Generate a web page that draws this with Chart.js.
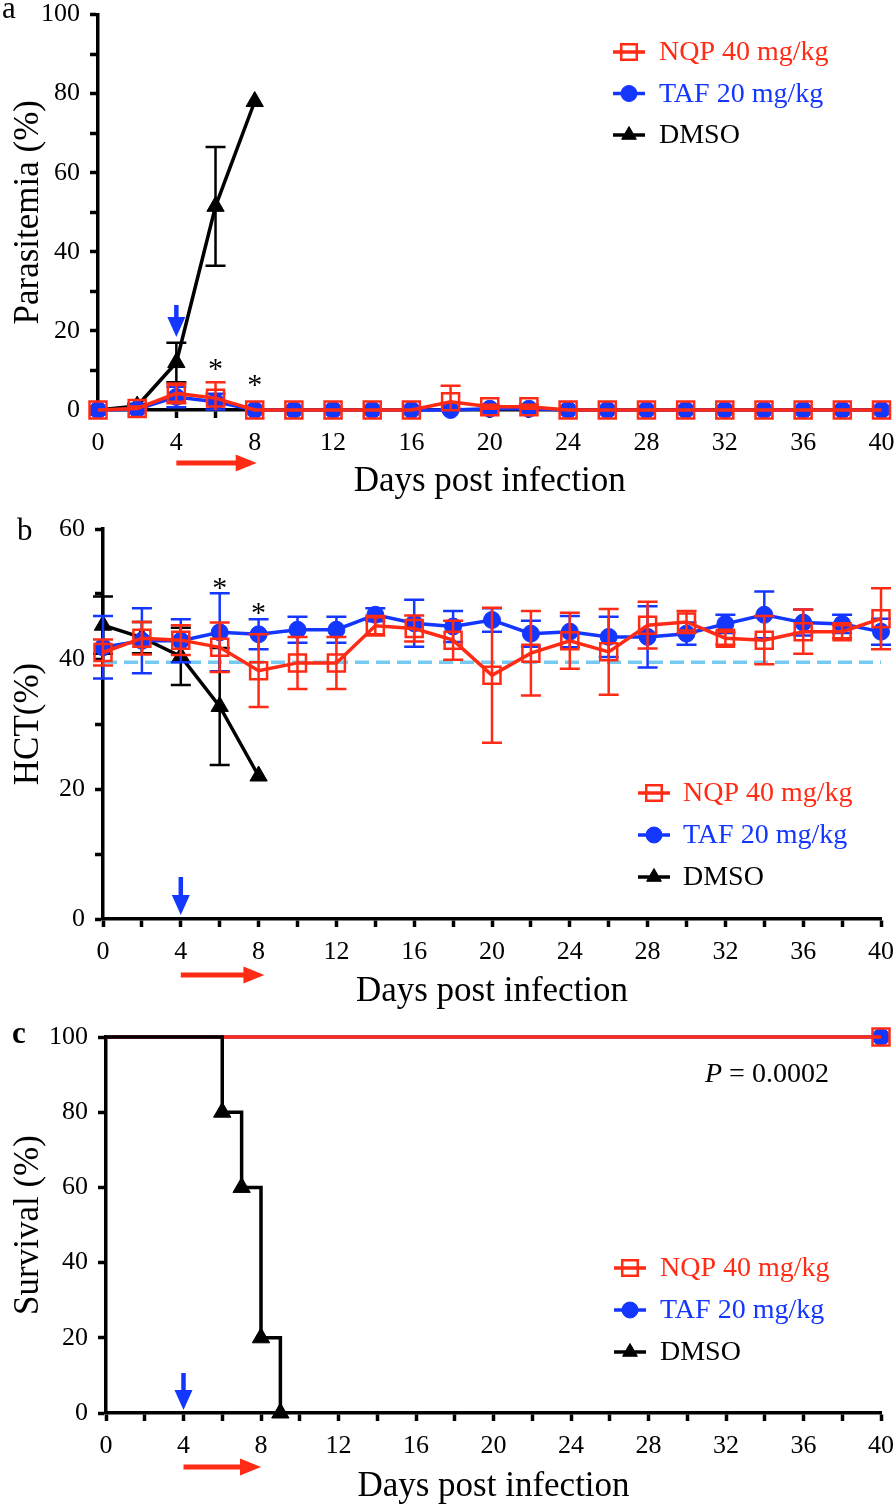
<!DOCTYPE html>
<html>
<head>
<meta charset="utf-8">
<script src="https://cdn.jsdelivr.net/npm/chart.js@4.4.1/dist/chart.umd.min.js"></script>
<style>
  body { margin: 0; background: #fff; }
  #wrap { position: relative; width: 896px; height: 1511px; }
  canvas { position: absolute; left: 0; }
</style>
</head>
<body>
<div id="wrap">
  <canvas id="chartA" width="896" height="505" style="top:0px"></canvas>
  <canvas id="chartB" width="896" height="509" style="top:505px"></canvas>
  <canvas id="chartC" width="896" height="497" style="top:1014px"></canvas>
</div>
<script>
// ---- data ----
const days = [0, 2, 4, 6, 8, 10, 12, 14, 16, 18, 20, 22, 24, 26, 28, 30, 32, 34, 36, 38, 40];
const dmsoDays = [0, 2, 4, 6, 8];

// a: parasitemia (%)
const paraNQP   = [0, 0.4, 4.2, 3.0, 0, 0, 0, 0, 0, 2.1, 0.8, 0.8, 0, 0, 0, 0, 0, 0, 0, 0, 0];
const paraNQPsd = [0, 0.5, 2.5, 4.0, 0, 0, 0, 0, 0, 4.0, 0.5, 0.5, 0, 0, 0, 0, 0, 0, 0, 0, 0];
const paraTAF   = [0, 0.2, 3.3, 2.1, 0, 0, 0, 0, 0, 0, 0.3, 0.3, 0, 0, 0, 0, 0, 0, 0, 0, 0];
const paraTAFsd = [0, 0.2, 2.6, 2.0, 0, 0, 0, 0, 0, 0, 0, 0, 0, 0, 0, 0, 0, 0, 0, 0, 0];
const paraDMSO   = [0, 1, 12, 51.5, 78];
const paraDMSOsd = [0, 0.5, 5, 15, 0];

// b: HCT (%)
const hctNQP   = [41.0, 43.2, 42.9, 41.8, 38.2, 39.4, 39.4, 45.1, 44.7, 42.9, 37.5, 40.9, 42.8, 41.1, 45.2, 45.7, 43.2, 42.9, 44.2, 44.2, 46.2];
const hctNQPsd = [2.0, 2.5, 2.3, 3.8, 5.6, 4.0, 4.0, 1.5, 2.0, 3.0, 10.4, 6.5, 4.3, 6.6, 3.6, 1.7, 1.0, 3.7, 3.4, 1.0, 4.7];
const hctTAF   = [41.8, 42.8, 42.8, 44.1, 43.8, 44.5, 44.5, 46.8, 45.5, 45.0, 46.0, 43.9, 44.2, 43.4, 43.4, 43.9, 45.4, 46.8, 45.6, 45.4, 44.2];
const hctTAFsd = [4.8, 5.0, 3.3, 6.0, 2.3, 2.0, 2.0, 1.0, 3.6, 2.4, 1.8, 2.0, 2.4, 3.1, 4.7, 1.7, 1.4, 3.6, 2.0, 1.4, 2.0];
const hctDMSO   = [45.2, 43.3, 40.4, 32.7, 22.0];
const hctDMSOsd = [4.4, 2.4, 4.4, 9.0, 0];
const hctNormal = 39.5;

// c: survival (%)
const survDrugDays = [0, 40];
const survNQP = [100, 100];
const survTAF = [100, 100];
const survDMSODays = [0, 6, 7, 8, 9];
const survDMSO = [100, 80, 60, 20, 0];

const RED = '#ff2b14';
const BLUE = '#1437ff';
const SKY = '#76c9f0';
const SERIF = "'Liberation Serif', 'Times New Roman', Times, serif";

function pts(xs, ys) {
  return xs.map((x, i) => ({ x: x, y: ys[i] }));
}

function nqpSet(xs, ys, sd) {
  return { label: 'NQP 40 mg/kg', data: pts(xs, ys), errors: sd, borderColor: RED, borderWidth: 3.5,
    pointStyle: 'rect', pointRadius: 12, pointBackgroundColor: 'rgba(255,255,255,0)',
    pointBorderColor: RED, pointBorderWidth: 2.5, tension: 0, clip: false };
}
function tafSet(xs, ys, sd) {
  return { label: 'TAF 20 mg/kg', data: pts(xs, ys), errors: sd, borderColor: BLUE, borderWidth: 3.5,
    pointStyle: 'circle', pointRadius: 8.5, pointBackgroundColor: BLUE,
    pointBorderColor: BLUE, pointBorderWidth: 1, tension: 0, clip: false };
}
function dmsoSet(xs, ys, sd) {
  return { label: 'DMSO', data: pts(xs, ys), errors: sd, borderColor: '#000', borderWidth: 3.5,
    pointStyle: 'triangle', pointRadius: 10, pointBackgroundColor: '#000',
    pointBorderColor: '#000', pointBorderWidth: 1, tension: 0, clip: false };
}

// error bars, drawn under each dataset
const errorBars = {
  id: 'errorBars',
  beforeDatasetDraw(chart, args) {
    const ds = chart.data.datasets[args.index];
    if (!ds.errors) return;
    const xs = chart.scales.x, ys = chart.scales.y;
    const ctx = chart.ctx;
    ctx.save();
    ctx.strokeStyle = ds.borderColor;
    ctx.lineWidth = 2.5;
    ds.data.forEach((p, i) => {
      const e = ds.errors[i];
      if (!e) return;
      const px = xs.getPixelForValue(p.x);
      const top = ys.getPixelForValue(p.y + e);
      const bot = ys.getPixelForValue(Math.max(p.y - e, ys.min));
      ctx.beginPath();
      ctx.moveTo(px, top); ctx.lineTo(px, bot);
      ctx.moveTo(px - 10, top); ctx.lineTo(px + 10, top);
      if (p.y - e > ys.min) { ctx.moveTo(px - 10, bot); ctx.lineTo(px + 10, bot); }
      ctx.stroke();
    });
    ctx.restore();
  }
};

// legend inside the plot + arrows, asterisks, letters
const extras = {
  id: 'extras',
  afterDraw(chart, args, o) {
    const ctx = chart.ctx;
    const xs = chart.scales.x, ys = chart.scales.y;
    ctx.save();
    // legend
    const lg = o.legend;
    const sets = chart.data.datasets.filter(d => !d.noLegend);
    sets.forEach((d, i) => {
      const y = lg.y + i * lg.dy;
      ctx.strokeStyle = d.borderColor;
      ctx.lineWidth = 3.5;
      ctx.beginPath();
      ctx.moveTo(lg.x - 16, y); ctx.lineTo(lg.x + 16, y);
      ctx.stroke();
      ctx.fillStyle = d.pointBackgroundColor;
      ctx.strokeStyle = d.pointBorderColor;
      ctx.lineWidth = d.pointBorderWidth;
      Chart.helpers.drawPoint(ctx, { pointStyle: d.pointStyle, radius: d.pointStyle === 'triangle' ? 8.5 : (d.pointStyle === 'rect' ? 11 : 8), rotation: 0, borderWidth: d.pointBorderWidth }, lg.x, y);
      ctx.fillStyle = d.borderColor;
      ctx.font = '28px ' + SERIF;
      ctx.textBaseline = 'middle';
      ctx.textAlign = 'left';
      ctx.fillText(d.label, lg.textX, y + 1);
    });
    // panel letter
    ctx.fillStyle = '#000';
    ctx.font = (o.letter.bold ? 'bold ' : '') + '31px ' + SERIF;
    ctx.textBaseline = 'alphabetic';
    ctx.fillText(o.letter.text, o.letter.x, o.letter.y);
    // blue arrow (start of treatment)
    const ba = o.blueArrow;
    const bx = xs.getPixelForValue(ba.day);
    ctx.strokeStyle = BLUE; ctx.fillStyle = BLUE; ctx.lineWidth = 4.5;
    ctx.beginPath(); ctx.moveTo(bx, ba.y1); ctx.lineTo(bx, ba.y2 - 16); ctx.stroke();
    ctx.beginPath(); ctx.moveTo(bx - 9, ba.y2 - 20); ctx.lineTo(bx + 9, ba.y2 - 20); ctx.lineTo(bx, ba.y2); ctx.closePath(); ctx.fill();
    // red arrow (treatment period)
    const ra = o.redArrow;
    const rx1 = xs.getPixelForValue(ra.from), rx2 = xs.getPixelForValue(ra.to);
    ctx.strokeStyle = RED; ctx.fillStyle = RED; ctx.lineWidth = 5;
    ctx.beginPath(); ctx.moveTo(rx1, ra.y); ctx.lineTo(rx2 - 18, ra.y); ctx.stroke();
    ctx.beginPath(); ctx.moveTo(rx2 - 21, ra.y - 8.5); ctx.lineTo(rx2, ra.y); ctx.lineTo(rx2 - 21, ra.y + 8.5); ctx.closePath(); ctx.fill();
    // significance stars
    ctx.fillStyle = '#000';
    ctx.font = '30px ' + SERIF;
    ctx.textAlign = 'center';
    (o.stars || []).forEach(s => {
      ctx.fillText('*', xs.getPixelForValue(s.day), ys.getPixelForValue(s.value) + 15);
    });
    // p value
    if (o.pval) {
      ctx.textAlign = 'left';
      ctx.font = 'italic 28px ' + SERIF;
      ctx.fillText('P', o.pval.x, o.pval.y);
      const w = ctx.measureText('P').width;
      ctx.font = '28px ' + SERIF;
      ctx.fillText(' = 0.0002', o.pval.x + w, o.pval.y);
    }
    ctx.restore();
  }
};

function axes(p) {
  const tickFont = { family: SERIF, size: 26 };
  const titleFont = { family: SERIF, size: 35 };
  return {
    x: {
      type: 'linear', min: 0, max: 40,
      afterFit: s => { s.height = p.h - p.bottom; s.paddingLeft = 0; s.paddingRight = 0; },
      border: { color: '#000', width: 3.5 },
      grid: { drawOnChartArea: false, drawTicks: true, tickLength: 8, tickWidth: 3.5, tickColor: '#000' },
      ticks: { stepSize: 2, autoSkip: false, maxRotation: 0, padding: 10, color: '#000', font: tickFont,
        callback: v => (v % 4 === 0 ? v : '') },
      title: { display: true, text: 'Days post infection', color: '#000', font: titleFont,
        padding: { top: 0, bottom: p.xTitlePad } }
    },
    y: {
      min: 0, max: p.yMax,
      afterFit: s => { s.width = p.left; s.paddingTop = 0; s.paddingBottom = 0; },
      border: { color: '#000', width: 3.5 },
      grid: { drawOnChartArea: false, drawTicks: true, tickLength: 8, tickWidth: 3.5, tickColor: '#000' },
      ticks: { stepSize: p.yStep, autoSkip: false, padding: 10, color: '#000', font: tickFont,
        callback: v => (v % 20 === 0 ? v : '') },
      title: { display: true, text: p.yTitle, color: '#000', font: titleFont,
        padding: { top: 8, bottom: 0 } }
    }
  };
}

function makeChart(id, p, datasets, notes) {
  return new Chart(document.getElementById(id), {
    type: 'line',
    data: { datasets: datasets },
    options: {
      responsive: false, animation: false, devicePixelRatio: 1, events: [],
      layout: { padding: { left: 0, top: p.top, right: 896 - p.right, bottom: 0 } },
      scales: axes(p),
      plugins: { legend: { display: false }, tooltip: { enabled: false }, extras: notes }
    },
    plugins: [errorBars, extras]
  });
}

// a
makeChart('chartA',
  { h: 505, top: 10, bottom: 410, left: 98, right: 883, xTitlePad: 2, yMax: 100, yStep: 10, yTitle: 'Parasitemia (%)' },
  [nqpSet(days, paraNQP, paraNQPsd), tafSet(days, paraTAF, paraTAFsd), dmsoSet(dmsoDays, paraDMSO, paraDMSOsd)],
  { legend: { x: 629, textX: 659, y: 52, dy: 41.5 }, letter: { text: 'a', x: 2, y: 18 },
    blueArrow: { day: 4, y1: 305, y2: 337 }, redArrow: { from: 4, to: 8.1, y: 463 },
    stars: [{ day: 6, value: 12 }, { day: 8, value: 7.8 }] });

// b
const normalLine = { label: '', noLegend: true, data: pts([0, 40], [hctNormal, hctNormal]), borderColor: SKY,
  borderWidth: 3.5, borderDash: [14, 7], pointRadius: 0, order: 10, clip: false };
makeChart('chartB',
  { h: 509, top: 24, bottom: 414, left: 103, right: 881, xTitlePad: 1, yMax: 60, yStep: 10, yTitle: 'HCT(%)' },
  [nqpSet(days, hctNQP, hctNQPsd), tafSet(days, hctTAF, hctTAFsd), dmsoSet(dmsoDays, hctDMSO, hctDMSOsd), normalLine],
  { legend: { x: 654, textX: 683, y: 288, dy: 42 }, letter: { text: 'b', x: 17, y: 35 },
    blueArrow: { day: 4, y1: 372, y2: 410 }, redArrow: { from: 4, to: 8.3, y: 470 },
    stars: [{ day: 6, value: 51.8 }, { day: 8, value: 48 }] });

// c
const cNQP = nqpSet(survDrugDays, survNQP, null);
cNQP.pointRadius = [0, 12]; cNQP.stepped = true; cNQP.order = 1;
const cTAF = tafSet(survDrugDays, survTAF, null);
cTAF.pointRadius = [0, 8.5]; cTAF.stepped = true; cTAF.order = 2;
const cDMSO = dmsoSet(survDMSODays, survDMSO, null);
cDMSO.pointRadius = [0, 10, 10, 10, 10]; cDMSO.stepped = true; cDMSO.order = 0;
makeChart('chartC',
  { h: 497, top: 23, bottom: 399, left: 106, right: 881, xTitlePad: 3, yMax: 100, yStep: 20, yTitle: 'Survival (%)' },
  [cNQP, cTAF, cDMSO],
  { legend: { x: 630, textX: 660, y: 254, dy: 42 }, letter: { text: 'c', x: 12, y: 29, bold: true },
    blueArrow: { day: 4, y1: 359, y2: 396 }, redArrow: { from: 4, to: 8, y: 453 },
    pval: { x: 705, y: 68 } });
</script>
</body>
</html>
